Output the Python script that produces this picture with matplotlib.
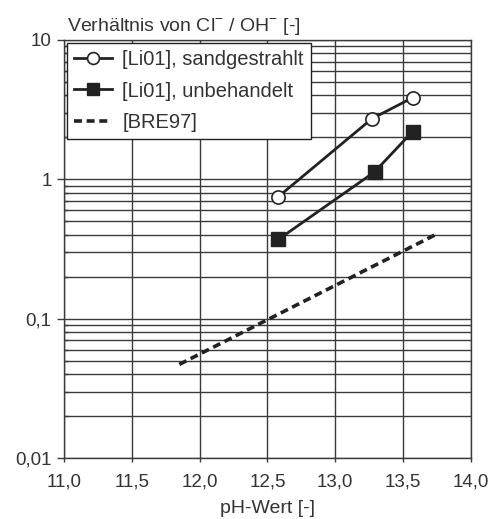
import numpy as np
import matplotlib.pyplot as plt
from matplotlib.ticker import FixedLocator, LogLocator, NullFormatter

plt.rcParams["font.family"] = ["Liberation Sans", "DejaVu Sans"]
plt.rcParams["mathtext.fontset"] = "custom"
plt.rcParams["mathtext.rm"] = "Liberation Sans"

# ===== Data =====
ph_sand = [12.58, 13.27, 13.57]
ratio_sand = [0.75, 2.72, 3.85]

ph_unbeh = [12.58, 13.29, 13.57]
ratio_unbeh = [0.37, 1.13, 2.2]

ph_bre = [11.85, 13.76]
ratio_bre = [0.047, 0.41]

x_ticks = [11.0, 11.5, 12.0, 12.5, 13.0, 13.5, 14.0]
y_ticks = [0.01, 0.1, 1, 10]
y_labels = ["0,01", "0,1", "1", "10"]

# ===== Figure =====
fig = plt.figure(figsize=(4.93, 5.19), dpi=100)
ax = fig.add_axes([0.130, 0.1175, 0.825, 0.8055])

line_col = "#222222"
grid_col = "#3a3a3a"
txt_col = "#333333"

ax.plot(ph_sand, ratio_sand, "-o", color=line_col, lw=2, ms=9.5,
        mfc="white", mec=line_col, mew=1.2, label="[Li01], sandgestrahlt", zorder=4)
ax.plot(ph_unbeh, ratio_unbeh, "-s", color=line_col, lw=2, ms=9.5,
        mfc=line_col, mec=line_col, label="[Li01], unbehandelt", zorder=4)
ax.plot(ph_bre, ratio_bre, color=line_col, lw=2.6, dashes=(2.2, 1.3),
        label="[BRE97]", zorder=4)

ax.set_yscale("log")
ax.set_xlim(11, 14)
ax.set_ylim(0.01, 10)

ax.set_xticks(x_ticks)
ax.set_xticklabels([f"{v:.1f}".replace(".", ",") for v in x_ticks])
ax.yaxis.set_major_locator(FixedLocator(y_ticks))
ax.set_yticklabels(y_labels)
ax.yaxis.set_minor_locator(LogLocator(base=10, subs=np.arange(2, 10)))
ax.yaxis.set_minor_formatter(NullFormatter())

ax.grid(True, which="both", color=grid_col, lw=1)
ax.set_axisbelow(True)
ax.tick_params(axis="both", which="major", labelsize=13.5, width=1,
               color=grid_col, labelcolor=txt_col)
ax.tick_params(axis="x", which="major", length=3, pad=8)
ax.tick_params(axis="y", which="major", length=5, pad=4)
ax.tick_params(axis="y", which="minor", direction="in", length=3,
               width=1, color=grid_col)
for sp in ax.spines.values():
    sp.set_color(grid_col)
    sp.set_linewidth(1)

ax.set_xlabel("pH-Wert [-]", fontsize=14, labelpad=7, color=txt_col)
fig.text(0.136, 1 - 31 / 519,
         r"Verhältnis von Cl$^{\mathrm{-}}$ / OH$^{\mathrm{-}}$ [-]",
         fontsize=14, ha="left", va="baseline", color=txt_col)

leg = ax.legend(loc="upper left", fontsize=14.5, frameon=True, fancybox=False,
                edgecolor=line_col, framealpha=1, borderaxespad=0.15,
                handlelength=1.9, handletextpad=0.5, labelspacing=0.62,
                borderpad=0.35, markerscale=0.9)
leg.get_frame().set_linewidth(1)
for t in leg.get_texts():
    t.set_color(txt_col)

fig.savefig("out.png", dpi=100)
